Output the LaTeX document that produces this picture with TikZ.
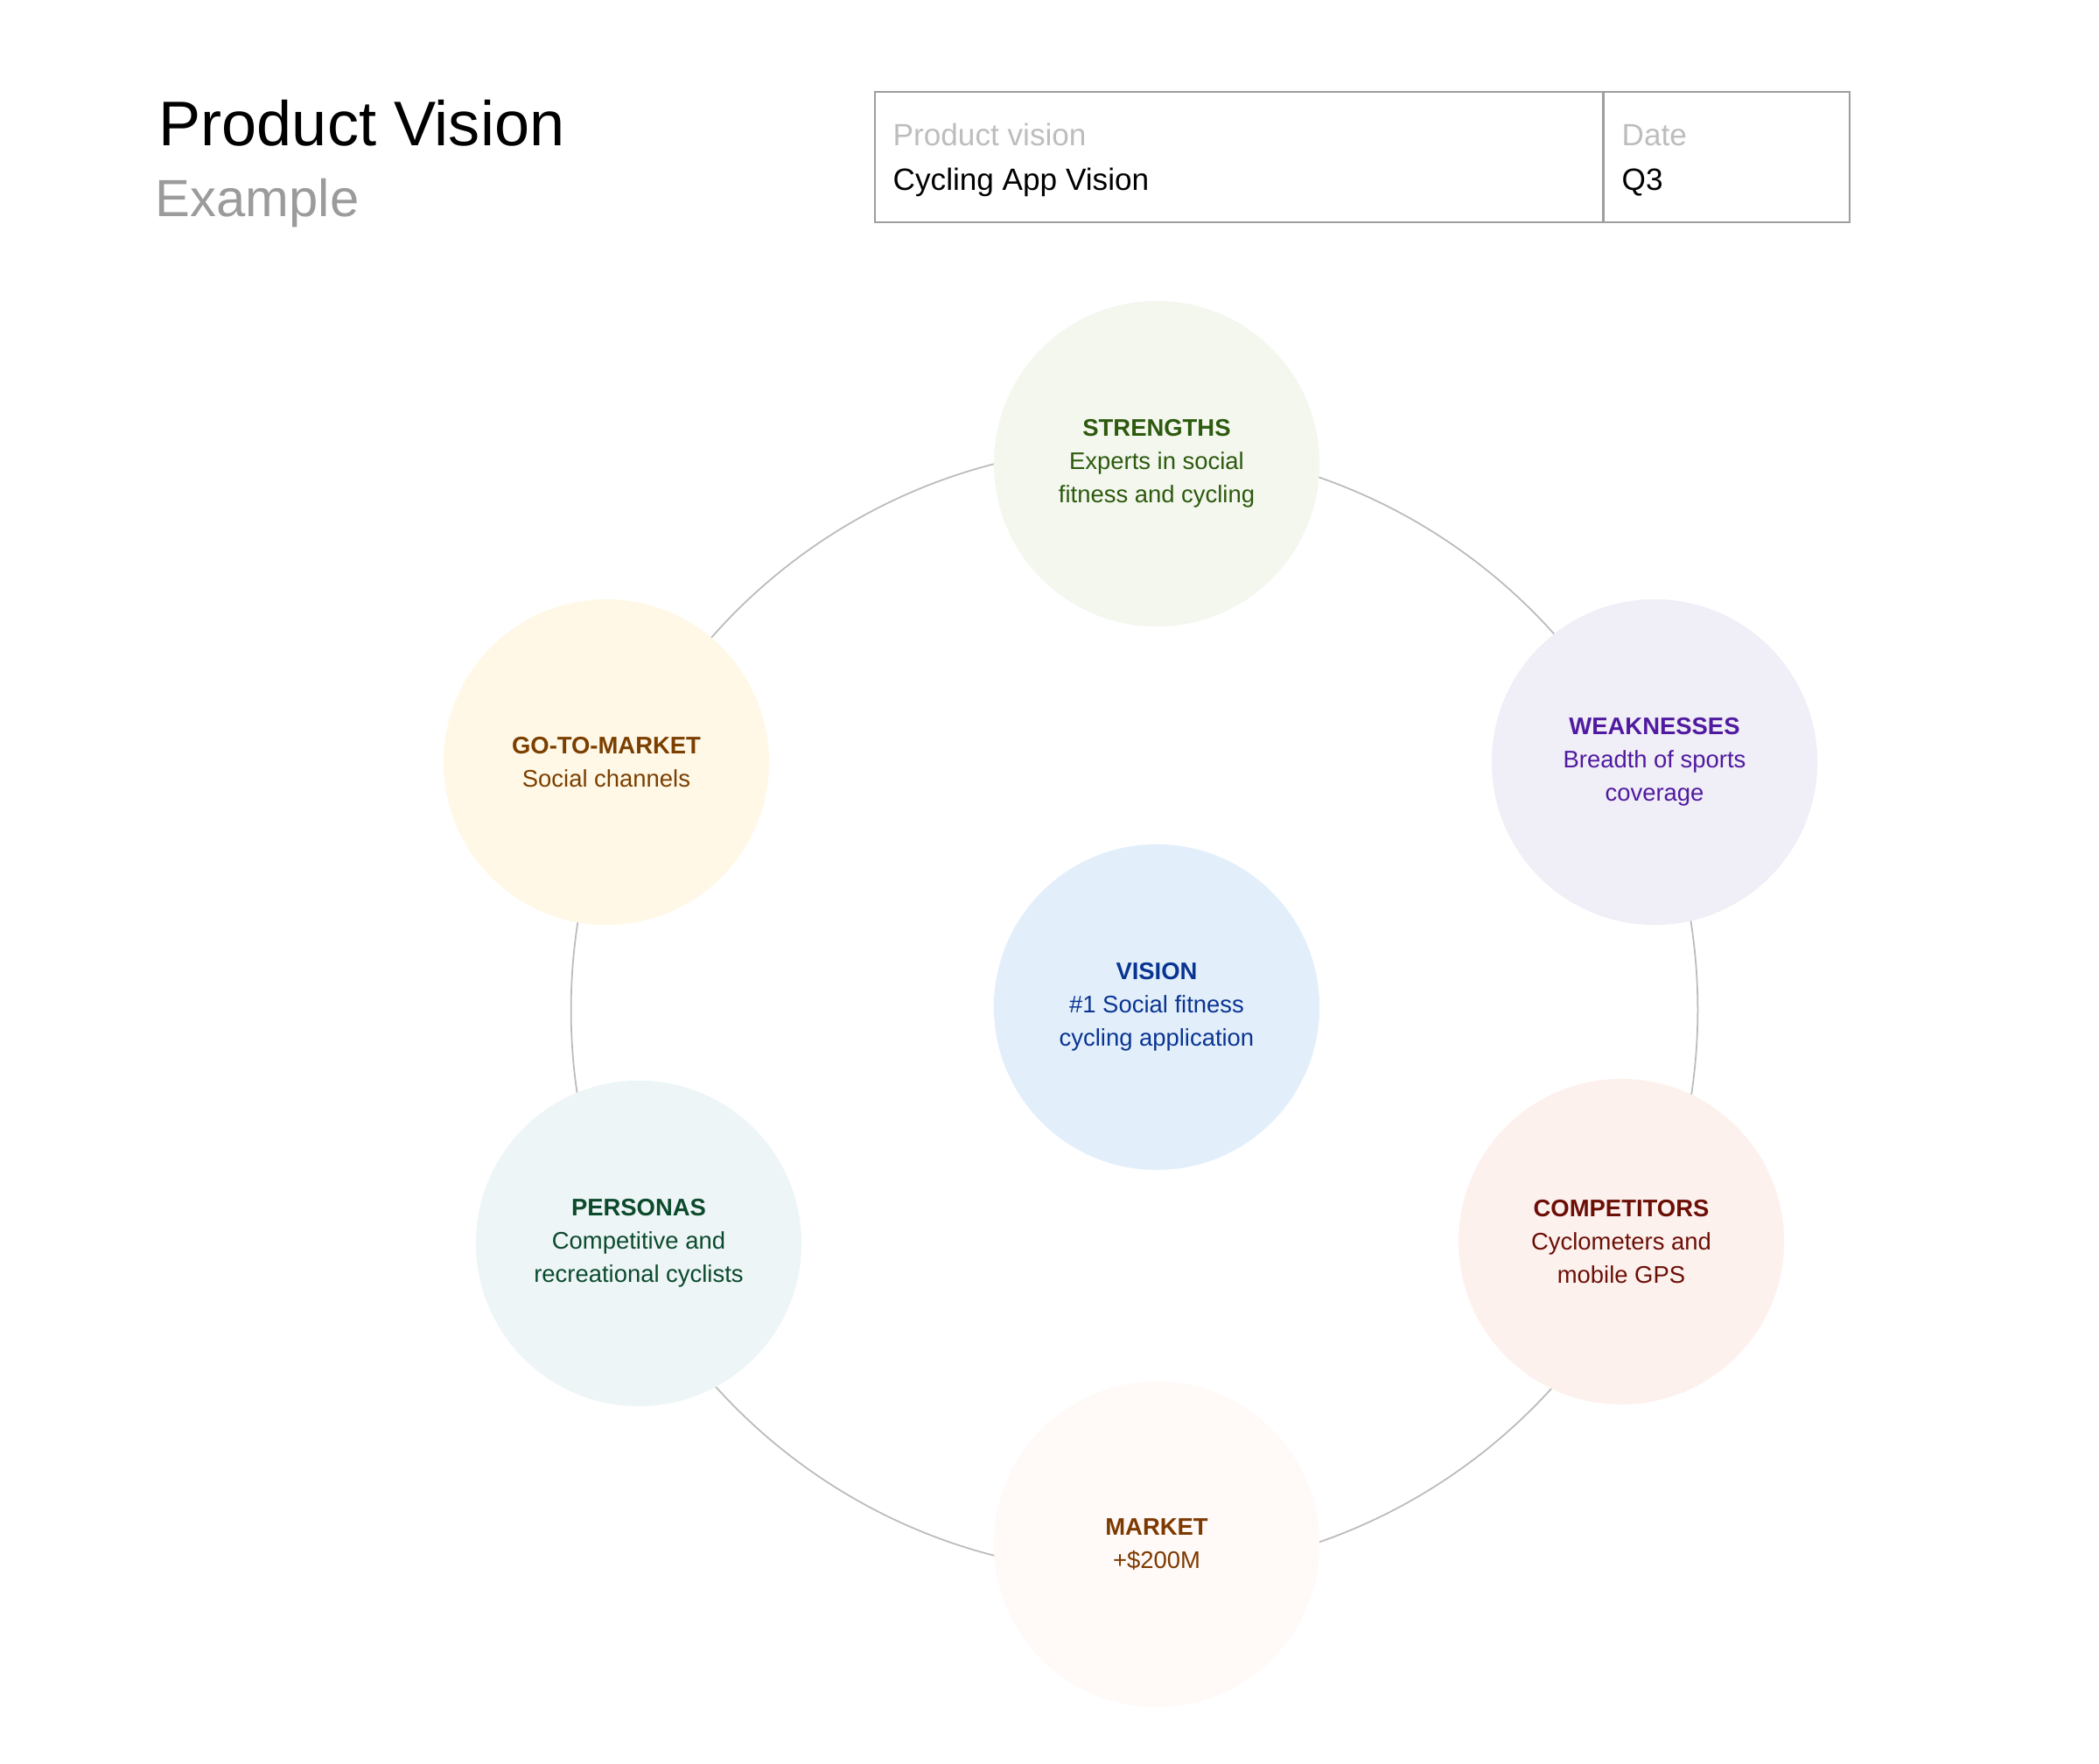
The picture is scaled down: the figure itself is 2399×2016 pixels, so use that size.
\documentclass[tikz,border=0pt]{standalone}
\usepackage{fontspec}
\setmainfont{Liberation Sans}
\usepackage{tikz}
\definecolor{RingGray}{HTML}{BBBBBB}
\definecolor{FrameGray}{HTML}{9E9E9E}
\definecolor{LabelGray}{HTML}{BDBDBD}
\definecolor{SubGray}{HTML}{9B9B9B}
\definecolor{StrengthInk}{HTML}{2D5A0E}
\definecolor{StrengthFill}{HTML}{F3F7EE}
\definecolor{WeakInk}{HTML}{501AA0}
\definecolor{WeakFill}{HTML}{F0EEF6}
\definecolor{GoInk}{HTML}{7B3F00}
\definecolor{GoFill}{HTML}{FFF8E7}
\definecolor{VisionInk}{HTML}{0A3491}
\definecolor{VisionFill}{HTML}{E2EFFB}
\definecolor{PersonaInk}{HTML}{0C4A2C}
\definecolor{PersonaFill}{HTML}{EDF5F7}
\definecolor{RivalInk}{HTML}{6B0F06}
\definecolor{RivalFill}{HTML}{FDF1EE}
\definecolor{MarketInk}{HTML}{7D3A00}
\definecolor{MarketFill}{HTML}{FFF9F8}

\begin{document}
\begin{tikzpicture}[x=0.01cm,y=-0.01cm,
  bubble/.style={circle,inner sep=0pt,minimum size=3.72cm,align=center,
    font=\fontsize{7.8}{10.8}\selectfont},
  cell/.style={draw=FrameGray,line width=.6pt,anchor=north west,
    inner sep=0pt,minimum height=1.49cm},
  lbl/.style={anchor=base west,inner sep=0pt}]
\path[use as bounding box] (0,0) rectangle (2399,2016);

% heading
\node[lbl,font=\fontsize{20.5}{24}\selectfont] (title) at (181,167)
      {Product Vision};
\node[lbl,text=SubGray,font=\fontsize{17}{20}\selectfont] (subtitle) at (177,248)
      {Example};

% header table
\node[cell,minimum width=8.32cm] (namecell) at (999,104) {};
\node[cell,minimum width=2.82cm] (datecell) at (1831,104) {};
\node[lbl,text=LabelGray,font=\fontsize{10}{12}\selectfont] (namelbl) at (1020,167)
      {Product vision};
\node[lbl,font=\fontsize{10}{12}\selectfont] (nameval) at (1020,218)
      {Cycling App Vision};
\node[lbl,text=LabelGray,font=\fontsize{10}{12}\selectfont] (datelbl) at (1853,167)
      {Date};
\node[lbl,font=\fontsize{10}{12}\selectfont] (dateval) at (1853,218)
      {Q3};

% ring behind the bubbles
\coordinate (hub) at (1296.5,1154);
\draw[RingGray,line width=.5pt] (hub) circle[radius=6.435cm];

\node[bubble,fill=StrengthFill,text=StrengthInk] (strengths) at (1322,530)
      {\textbf{STRENGTHS}\\Experts in social\\fitness and cycling};
\node[bubble,fill=WeakFill,text=WeakInk] (weaknesses) at (1891,871)
      {\textbf{WEAKNESSES}\\Breadth of sports\\coverage};
\node[bubble,fill=RivalFill,text=RivalInk] (competitors) at (1853,1419)
      {\textbf{COMPETITORS}\\Cyclometers and\\mobile GPS};
\node[bubble,fill=MarketFill,text=MarketInk] (market) at (1322,1765)
      {\textbf{MARKET}\\+\$200M};
\node[bubble,fill=PersonaFill,text=PersonaInk] (personas) at (730,1421)
      {\textbf{PERSONAS}\\Competitive and\\recreational cyclists};
\node[bubble,fill=GoFill,text=GoInk] (gotomarket) at (693,871)
      {\textbf{GO-TO-MARKET}\\Social channels};
\node[bubble,fill=VisionFill,text=VisionInk] (vision) at (1322,1151)
      {\textbf{VISION}\\\#1 Social fitness\\cycling application};
\end{tikzpicture}
\end{document}
